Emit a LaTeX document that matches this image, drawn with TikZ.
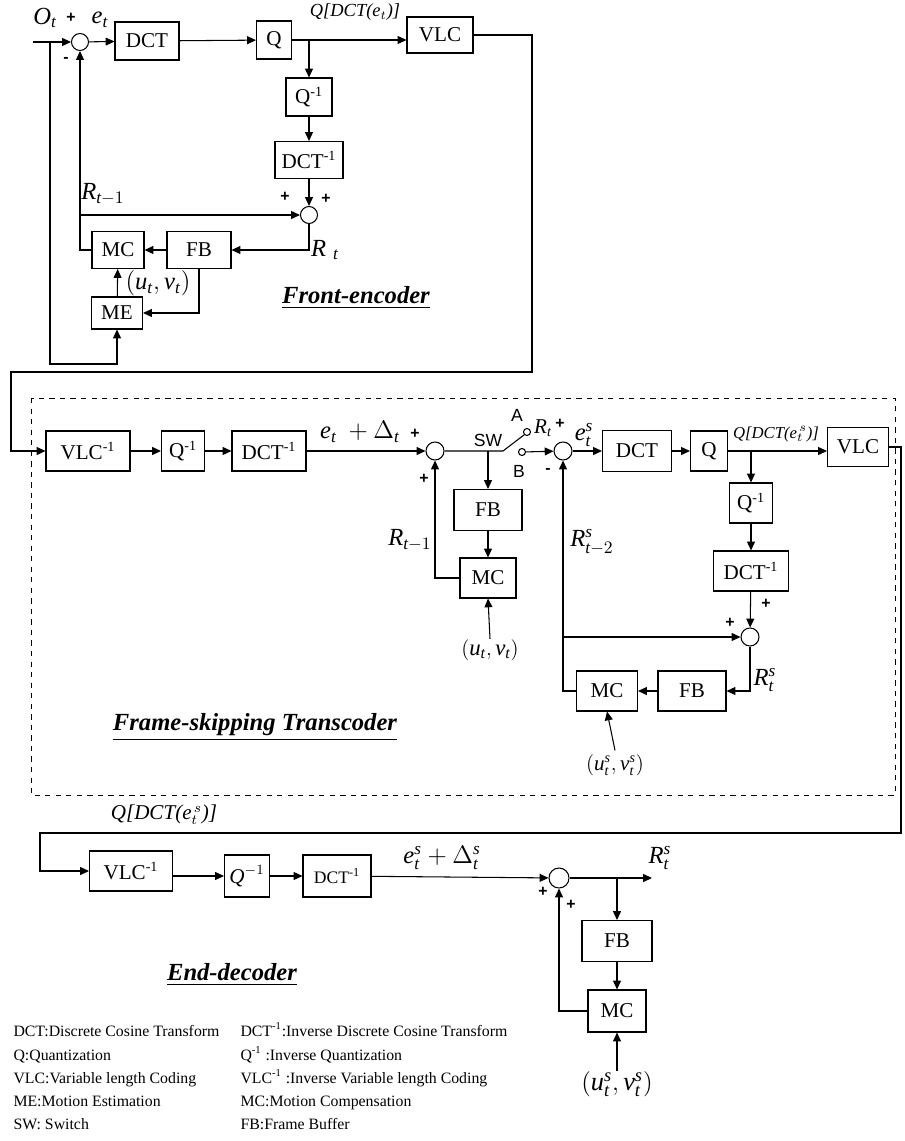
\documentclass[tikz,border=0pt]{standalone}
\usepackage{amsmath}
\usepackage{fontspec}
\setmainfont{Liberation Serif}
\setsansfont{Liberation Sans}
\usetikzlibrary{arrows.meta,positioning,calc}
\newcommand{\mv}[1]{\textit{#1}}

\begin{document}
\begin{tikzpicture}[x=0.02cm,y=-0.02cm,line width=0.6pt,
  >={Triangle[length=5pt,width=4.5pt]},
  blk/.style={draw,minimum height=0.76cm,inner sep=1pt,font=\fontsize{12}{14}\selectfont},
  sumc/.style={draw,circle,minimum size=0.34cm,inner sep=0pt},
  sgn/.style={font=\sffamily\bfseries\fontsize{9}{10}\selectfont,inner sep=0pt},
  sans/.style={font=\sffamily\fontsize{10}{12}\selectfont,inner sep=0pt},
  big/.style={font=\fontsize{14}{16}\selectfont,inner sep=0pt},
  qlbl/.style={font=\fontsize{10.5}{12}\selectfont\itshape,inner sep=0pt},
  ttl/.style={font=\fontsize{14}{16}\selectfont\bfseries\itshape,inner sep=0pt},
  leg/.style={font=\fontsize{9}{11}\selectfont,anchor=base west,inner sep=0pt},
  contact/.style={draw,circle,minimum size=4pt,inner sep=0pt}]
\useasboundingbox (0,0) rectangle (904,1141);

% front-encoder
\node[sumc] (fs1) at (80,42) {};
\node[blk,minimum width=1.28cm] (fdct) at (147,41) {DCT};
\node[blk,minimum width=0.7cm] (fq) at (274,40) {Q};
\node[blk,minimum width=1.32cm,minimum height=0.72cm] (fvlc) at (440,35) {VLC};
\node[blk,minimum width=0.92cm] (fiq) at (309,97) {Q\textsuperscript{-1}};
\node[blk,minimum width=1.36cm,minimum height=0.74cm] (fidct) at (309,160) {DCT\textsuperscript{-1}};
\node[sumc] (fs2) at (309,215) {};
\node[blk,minimum width=1.04cm,minimum height=0.74cm] (fmc) at (118,250) {MC};
\node[blk,minimum width=1.28cm,minimum height=0.74cm] (ffb) at (199,250) {FB};
\node[blk,minimum width=1.02cm,minimum height=0.64cm] (fme) at (117,313) {ME};
\coordinate (fin) at (33,42);
\coordinate (fsplit) at (50,42);

\draw[->] (fin) -- (fs1);
\draw[->] (fs1) -- (fdct);
\draw[->] (fdct) -- (fq);
\draw[->] (fq.east) -- (fq.east -| fvlc.west);
\draw[->] (fiq |- fq) -- (fiq);
\draw[->] (fiq) -- (fidct);
\draw[->] (fidct) -- (fs2);
\draw[->] (fs2.south) |- (ffb.east);
\draw[->] (ffb) -- (fmc);
\draw[->] (fmc.west) -| (fs1.south);
\draw[->] (fs1 |- fs2) -- (fs2.west);
\draw[->] (fme) -- (fmc);
\draw[->] (ffb.south) |- (fme.east);
\draw[->] (fsplit) -- (50,364) -| (fme.south);

\node[big] at (45,18) {$\mv{O}_{\mv{t}}$};
\node[sgn] at (71,18) {+};
\node[big] at (100,20) {$\mv{e}_{\mv{t}}$};
\node[sgn] at (66,60) {-};
\node[qlbl] at (355,12) {Q[DCT(e$_t$)]};
\node[sgn] at (285,197) {+};
\node[sgn] at (326,199) {+};
\node[big] at (103,194) {$\mv{R}_{\mv{t}-1}$};
\node[big] at (325,250) {$\mv{R}\;_{\mv{t}}$};
\node[big] at (158,283) {$(\mv{u}_{\mv{t}},\mv{v}_{\mv{t}})$};
\node[ttl] at (356,298) {\underline{Front-encoder}};

% frame-skipping transcoder
\draw[dashed,line width=0.5pt] (31,398) rectangle (895,795);
\node[blk,minimum width=1.68cm,minimum height=0.8cm] (tivlc) at (88,451) {VLC\textsuperscript{-1}};
\node[blk,minimum width=0.86cm,minimum height=0.8cm] (tiq) at (183,451) {Q\textsuperscript{-1}};
\node[blk,minimum width=1.48cm,minimum height=0.8cm] (tidct) at (269,451) {DCT\textsuperscript{-1}};
\node[sumc,minimum size=0.36cm] (ts1) at (435,451) {};
\coordinate (swp) at (503,451);
\node[contact] (swa) at (527,432) {};
\node[contact] (swb) at (522,452) {};
\node[sumc,minimum size=0.36cm] (ts2) at (563,451) {};
\node[blk,minimum width=1.38cm,minimum height=0.82cm] (tdct) at (637,451) {DCT};
\node[blk,minimum width=0.74cm,minimum height=0.8cm] (tq) at (709,451) {Q};
\node[blk,minimum width=1.22cm,minimum height=0.78cm] (tvlc) at (858,447) {VLC};
\node[blk,minimum width=0.86cm,minimum height=0.8cm] (tiq2) at (751,503) {Q\textsuperscript{-1}};
\node[blk,minimum width=1.5cm,minimum height=0.8cm] (tidct2) at (751,571) {DCT\textsuperscript{-1}};
\node[sumc,minimum size=0.36cm] (ts3) at (750,637) {};
\node[blk,minimum width=1.36cm,minimum height=0.8cm] (tfb2) at (692,691) {FB};
\node[blk,minimum width=1.22cm,minimum height=0.8cm] (tmc2) at (607,691) {MC};
\node[blk,minimum width=1.36cm,minimum height=0.82cm] (tfb) at (488,510) {FB};
\node[blk,minimum width=1.12cm,minimum height=0.8cm] (tmc) at (488,578) {MC};
\node[big,font=\fontsize{13}{15}\selectfont] (tuv) at (490,650) {$(\mv{u}_{\mv{t}},\mv{v}_{\mv{t}})$};
\node[big,font=\fontsize{12}{14}\selectfont] (tuvs) at (615,765) {$(\mv{u}^{\mv{s}}_{\mv{t}},\mv{v}^{\mv{s}}_{\mv{t}})$};

\draw[->] (fvlc.east) -- (532,35) -- (532,372) -- (11,372) |- (tivlc.west);
\draw[->] (tivlc) -- (tiq);
\draw[->] (tiq) -- (tidct);
\draw[->] (tidct) -- (ts1);
\draw (ts1) -- (swp) -- (swa.south west);
\draw[->] (tfb |- ts1) -- (tfb);
\draw[->] (tfb) -- (tmc);
\draw[->] (tmc.west) -| (ts1.south);
\draw[->] (tuv.north) -- (tmc.south);
\draw[->] (swb) -- (ts2);
\draw[->] (ts2) -- (tdct);
\draw[->] (tdct) -- (tq);
\draw[->] (tq.east) -- (tq.east -| tvlc.west);
\draw[->] (tiq2 |- tq) -- (tiq2);
\draw[->] (tiq2) -- (tidct2);
\draw[->] (tidct2) -- (ts3);
\draw[->] (ts3.south) |- (tfb2.east);
\draw[->] (tfb2) -- (tmc2);
\draw[->] (tmc2.west) -| (ts2.south);
\draw[->] (ts2 |- ts3) -- (ts3.west);
\draw[->] ([yshift=2pt]tuvs.north) -- (tmc2.south);

\node[big] at (360,432) {$\mv{e}_{\mv{t}}\ +\Delta_{\mv{t}}$};
\node[sgn] at (415,434) {+};
\node[sgn] at (424,479) {+};
\node[big,anchor=east] at (432,540) {$\mv{R}_{\mv{t}-1}$};
\node[sans] at (488,440) {SW};
\node[sans] at (517,415) {A};
\node[sans] at (519,471) {B};
\node[big,font=\fontsize{12}{14}\selectfont] at (543,428) {$\mv{R}_{\mv{t}}$};
\node[sgn] at (560,424) {+};
\node[sgn] at (548,471) {-};
\node[big] at (584,435) {$\mv{e}^{\mv{s}}_{\mv{t}}$};
\node[qlbl,font=\fontsize{9.5}{11}\selectfont\itshape] at (776,434) {Q[DCT(e$^{\,s}_t$)]};
\node[big] at (592,542) {$\mv{R}^{\mv{s}}_{\mv{t}-2}$};
\node[sgn] at (766,604) {+};
\node[sgn] at (730,623) {+};
\node[big] at (765,680) {$\mv{R}^{\mv{s}}_{\mv{t}}$};
\node[ttl] at (255,727) {\underline{Frame-skipping Transcoder}};

% end-decoder
\node[blk,minimum width=1.66cm,minimum height=0.8cm] (divlc) at (131,871) {VLC\textsuperscript{-1}};
\node[blk,minimum width=0.9cm,minimum height=0.84cm] (diq) at (247,876) {$\mv{Q}^{-1}$};
\node[blk,minimum width=1.36cm,minimum height=0.84cm,font=\fontsize{10}{12}\selectfont] (didct) at (337,876) {DCT\textsuperscript{-1}};
\node[sumc,minimum size=0.4cm] (ds) at (559,878) {};
\node[blk,minimum width=1.4cm,minimum height=0.82cm] (dfb) at (617,941) {FB};
\node[blk,minimum width=1.16cm,minimum height=0.84cm] (dmc) at (617,1011) {MC};
\node[big,font=\fontsize{15}{17}\selectfont] (duv) at (617,1084) {$(\mv{u}^{\mv{s}}_{\mv{t}},\mv{v}^{\mv{s}}_{\mv{t}})$};
\coordinate (dout) at (652,878);

\draw[->] (tvlc.east) -- (901,447) -- (901,833) -- (40,833) |- (divlc.west);
\draw[->] (divlc.east |- diq) -- (diq.west);
\draw[->] (diq) -- (didct);
\draw[->] (didct) -- (ds);
\draw[->] (ds) -- (dout);
\draw[->] (dfb |- ds) -- (dfb);
\draw[->] (dfb) -- (dmc);
\draw[->] (dmc.west) -| (ds.south);
\draw[->] (duv.north) -- (dmc.south);

\node[qlbl,font=\fontsize{12}{14}\selectfont\itshape] at (164,815) {Q[DCT(e$^{\,s}_t$)]};
\node[big] at (442,858) {$\mv{e}^{\mv{s}}_{\mv{t}}+\Delta^{\mv{s}}_{\mv{t}}$};
\node[sgn] at (543,892) {+};
\node[sgn] at (571,905) {+};
\node[big] at (660,858) {$\mv{R}^{\mv{s}}_{\mv{t}}$};
\node[ttl] at (232,975) {\underline{End-decoder}};

% legend
\node[leg] at (13,1036) {DCT:Discrete Cosine Transform};
\node[leg] at (13,1060) {Q:Quantization};
\node[leg] at (13,1083) {VLC:Variable length Coding};
\node[leg] at (13,1106) {ME:Motion Estimation};
\node[leg] at (13,1129) {SW: Switch};
\node[leg] at (240,1036) {DCT\textsuperscript{-1}:Inverse Discrete Cosine Transform};
\node[leg] at (240,1060) {Q\textsuperscript{-1} :Inverse Quantization};
\node[leg] at (240,1083) {VLC\textsuperscript{-1} :Inverse Variable length Coding};
\node[leg] at (240,1106) {MC:Motion Compensation};
\node[leg] at (240,1129) {FB:Frame Buffer};
\end{tikzpicture}
\end{document}
